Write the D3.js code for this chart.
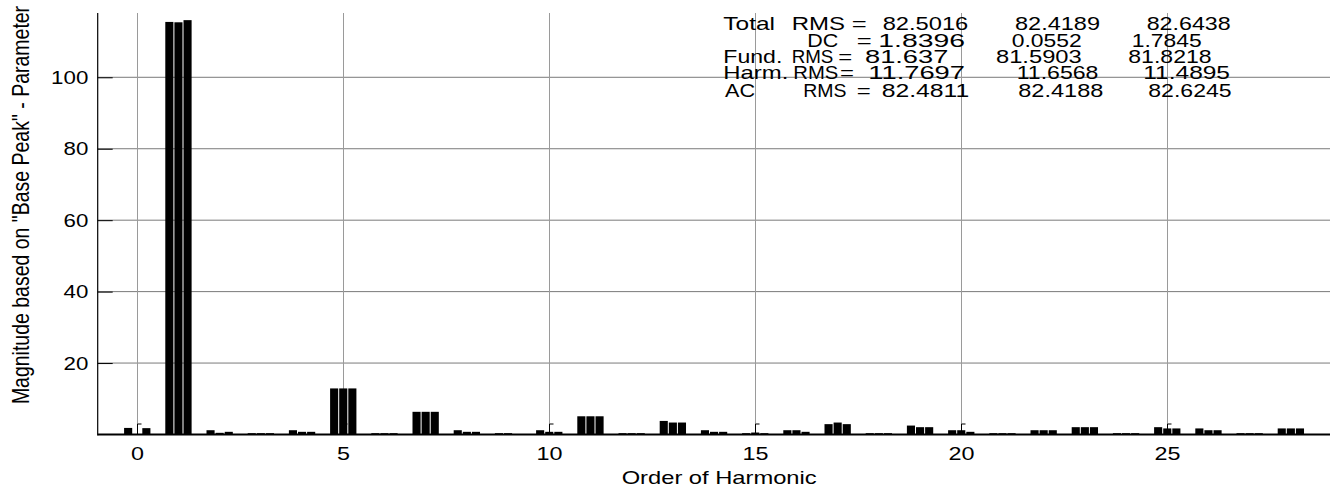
<!DOCTYPE html>
<html>
<head>
<meta charset="utf-8">
<script src="https://cdn.jsdelivr.net/npm/d3@7"></script>
<style>
  html, body { margin: 0; padding: 0; background: #fff; }
  svg { display: block; }
  text { font-family: "Liberation Sans", Arial, Helvetica, sans-serif; fill: #000; }
</style>
</head>
<body>
<svg id="chart" width="1334" height="487"></svg>
<script>
// ---------------- data ----------------
const harmonics = d3.range(0, 29);
const phaseA = [1.84, 115.5, 1.2, 0.37, 1.2, 12.9, 0.37, 6.35, 1.2, 0.37, 1.2, 5.1, 0.37, 3.8, 1.2, 0.37, 1.2, 2.9, 0.37, 2.5, 1.2, 0.37, 1.2, 2.05, 0.37, 2.05, 1.7, 0.37, 1.7];
const phaseB = [0.06, 115.4, 0.47, 0.37, 0.75, 12.9, 0.37, 6.35, 0.75, 0.37, 0.75, 5.1, 0.37, 3.35, 0.75, 0.55, 1.2, 3.35, 0.37, 2.05, 1.2, 0.37, 1.2, 2.05, 0.37, 1.7, 1.2, 0.37, 1.7];
const phaseC = [1.78, 116.0, 0.75, 0.37, 0.75, 12.9, 0.37, 6.35, 0.75, 0.1, 0.75, 5.1, 0.37, 3.35, 0.75, 0.37, 0.75, 2.9, 0.37, 2.05, 0.75, 0.37, 1.2, 2.05, 0.37, 1.7, 1.2, 0.37, 1.7];
const xTicks = [0, 5, 10, 15, 20, 25];
const yTicks = [20, 40, 60, 80, 100];
const xTitle = "Order of Harmonic";
const yTitle = 'Magnitude based on "Base Peak" - Parameter';

// summary text block
const statLabels = [
  ["Total", "RMS", "="],
  ["DC", "="],
  ["Fund.", "RMS", "="],
  ["Harm.", "RMS", "="],
  ["AC", "RMS", "="]
];
const statCol1 = ["82.5016", "1.8396", "81.637", "11.7697", "82.4811"];
const statCol2 = ["82.4189", "0.0552", "81.5903", "11.6568", "82.4188"];
const statCol3 = ["82.6438", "1.7845", "81.8218", "11.4895", "82.6245"];

// ---------------- layout (text placement: [x, width]) ----------------
const labelPos = [
  [[723.3, 51.7], [791.7, 53.3], [851.7, 15]],
  [[807.3, 31], [856.7, 15]],
  [[723.3, 59], [791.7, 41.7], [838.3, 14]],
  [[723.3, 65], [793.3, 45], [840, 14]],
  [[725, 30], [803.3, 43.3], [856.7, 14]]
];
const col1Pos = [[882.7, 85.6], [878.3, 86.7], [865, 83.3], [868.3, 96.7], [881.7, 87.6]];
const col2Pos = [[1015, 85], [1011.7, 70], [996, 85.7], [1016.7, 81.7], [1018.3, 85]];
const col3Pos = [[1146.7, 84], [1131.7, 70], [1128.3, 83.3], [1143.3, 86.7], [1148.3, 83.3]];
const rowY = [30, 46.5, 63, 79, 96.5];
const FS = 19, SX = 1.2, DIGIT_W = 12.4;

const svg = d3.select("#chart");
const x = d3.scaleLinear().domain([-0.96, 28.95]).range([97.7, 1330]);
const y = d3.scaleLinear().domain([0, 118]).range([434.5, 13]);
const x0 = x.range()[0], x1 = x.range()[1];
const y0 = y.range()[0], yTop = y.range()[1];

// gridlines
const gGrid = svg.append("g");
gGrid.selectAll("line.h").data(yTicks).join("line")
  .attr("x1", x0).attr("x2", x1)
  .attr("y1", d => y(d)).attr("y2", d => y(d))
  .attr("stroke", "#7a7a7a").attr("stroke-width", 1);
gGrid.selectAll("line.v").data(xTicks).join("line")
  .attr("x1", d => Math.round(x(d)) + 0.5).attr("x2", d => Math.round(x(d)) + 0.5)
  .attr("y1", yTop).attr("y2", y(0) - 10.5)
  .attr("stroke", "#9a9a9a").attr("stroke-width", 1);
// small bottom tick marks on vertical gridlines
gGrid.selectAll("path.m").data(xTicks).join("path")
  .attr("d", d => `M${Math.round(x(d)) + 0.5},${y(0)} V${y(0) - 10.5} h4`)
  .attr("fill", "none").attr("stroke", "#000").attr("stroke-width", 1);

// bars
const step = 0.221;
const series = [phaseA, phaseB, phaseC];
const bw = (x(step) - x(0)) - 1;
const bars = [];
series.forEach((s, i) => s.forEach((v, h) => bars.push({ h, i, v })));
svg.append("g").selectAll("rect").data(bars).join("rect")
  .attr("x", d => x(harmonics[d.h] + (d.i - 1) * step) - bw / 2)
  .attr("width", bw)
  .attr("y", d => y(d.v))
  .attr("height", d => y(0) - y(d.v))
  .attr("fill", "#000");

// y ticks (inward)
const yAxis = svg.append("g").attr("transform", `translate(${x0},0)`)
  .call(d3.axisLeft(y).tickValues(yTicks).tickSizeInner(-15).tickSizeOuter(0).tickFormat(""));
yAxis.select(".domain").remove();
yAxis.selectAll(".tick line").attr("stroke", "#000").attr("stroke-width", 1);
yAxis.selectAll(".tick text").remove();
// y tick labels
svg.append("g").selectAll("text").data(yTicks).join("text")
  .each(function (d) {
    const s = String(d), w = s.length * DIGIT_W;
    d3.select(this)
      .attr("x", x0 - 9.4 - w).attr("y", y(d) + 6.6)
      .attr("textLength", w).attr("lengthAdjust", "spacingAndGlyphs")
      .style("font-size", FS + "px").text(s);
  });

// x tick labels
svg.append("g").selectAll("text").data(xTicks).join("text")
  .each(function (d) {
    const s = String(d), w = s.length * 13;
    d3.select(this)
      .attr("x", x(d) + 0.3 - w / 2).attr("y", y0 + 25.5)
      .attr("textLength", w).attr("lengthAdjust", "spacingAndGlyphs")
      .style("font-size", FS + "px").text(s);
  });

// axis lines
svg.append("line").attr("x1", x0).attr("x2", x1).attr("y1", y0).attr("y2", y0)
  .attr("stroke", "#000").attr("stroke-width", 2);
svg.append("line").attr("x1", x0).attr("x2", x0).attr("y1", yTop).attr("y2", y0 + 1)
  .attr("stroke", "#000").attr("stroke-width", 1.2);

// titles
svg.append("text")
  .attr("x", 621.7).attr("y", 483.5)
  .attr("textLength", 195).attr("lengthAdjust", "spacingAndGlyphs")
  .style("font-size", FS + "px").text(xTitle);
svg.append("text")
  .attr("transform", `translate(29,205) rotate(-90) scale(1,${SX})`)
  .attr("text-anchor", "middle").style("font-size", "19.5px").text(yTitle);

// stats block
const gStat = svg.append("g");
function put(str, p, py) {
  gStat.append("text")
    .attr("x", p[0]).attr("y", py)
    .attr("textLength", p[1]).attr("lengthAdjust", "spacingAndGlyphs")
    .style("font-size", FS + "px").text(str);
}
statLabels.forEach((parts, r) => {
  parts.forEach((t, k) => put(t, labelPos[r][k], rowY[r]));
  put(statCol1[r], col1Pos[r], rowY[r]);
  put(statCol2[r], col2Pos[r], rowY[r]);
  put(statCol3[r], col3Pos[r], rowY[r]);
});
</script>
</body>
</html>
